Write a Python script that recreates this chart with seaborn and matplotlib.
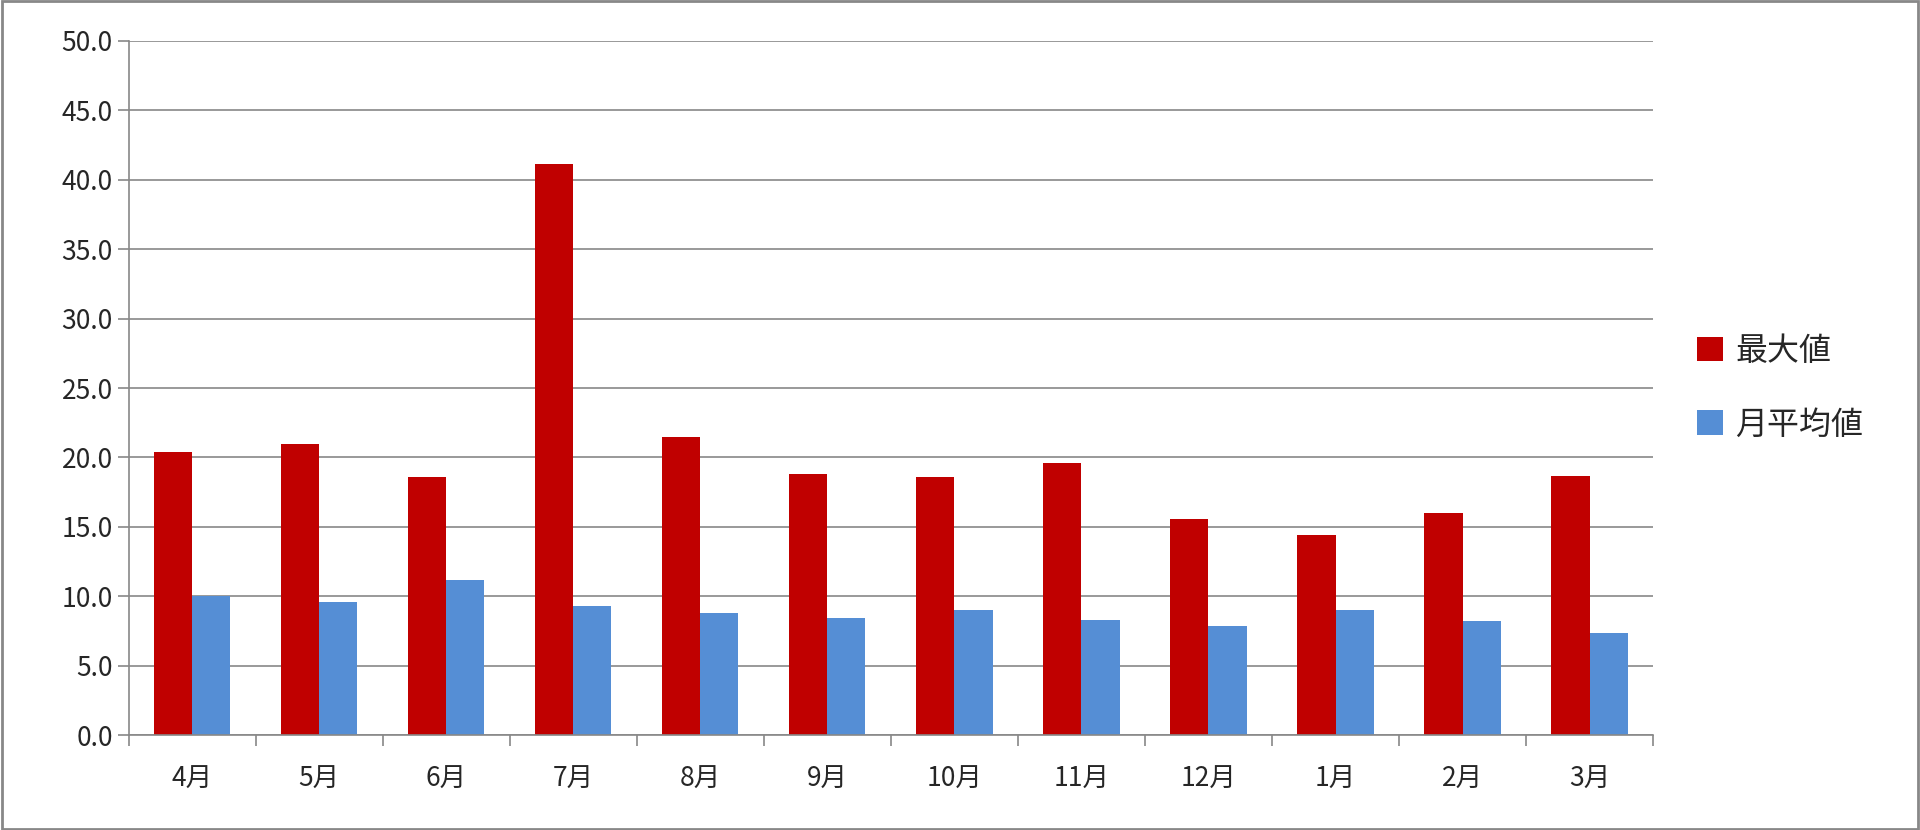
import seaborn as sns
import pandas as pd
import matplotlib.pyplot as plt
from matplotlib.patches import Rectangle

months = ['4月', '5月', '6月', '7月', '8月', '9月', '10月', '11月', '12月', '1月', '2月', '3月']
max_vals = [20.4, 20.95, 18.6, 41.1, 21.5, 18.8, 18.6, 19.6, 15.6, 14.4, 16.0, 18.7]
avg_vals = [10.0, 9.6, 11.2, 9.3, 8.8, 8.45, 9.0, 8.3, 7.9, 9.0, 8.2, 7.4]
series = ['最大値', '月平均値']

df = pd.DataFrame({'month': months * 2,
                   'value': max_vals + avg_vals,
                   'series': [series[0]] * 12 + [series[1]] * 12})

sns.set_style('white')
plt.rcParams['font.family'] = ['Noto Sans CJK JP', 'DejaVu Sans']

fig = plt.figure(figsize=(19.2, 8.3), dpi=100)
ax = fig.add_axes([0.067, 0.114, 0.794, 0.837])
sns.barplot(data=df, x='month', y='value', hue='series', order=months,
            palette=['#C00000', '#558ED5'], width=0.6, saturation=1,
            linewidth=0, ax=ax)

ax.set_ylim(0, 50)
ax.set_yticks(range(0, 51, 5))
ax.set_yticklabels([f'{v:.1f}' for v in range(0, 51, 5)], fontsize=19)
ax.set_xlim(-0.5, 11.5)
ax.tick_params(axis='x', labelsize=19, pad=22)
ax.set_xlabel('')
ax.set_ylabel('')
ax.yaxis.grid(True, color='#888888', linewidth=1.2)
ax.set_axisbelow(True)
for s in ['top', 'right']:
    ax.spines[s].set_visible(False)
for s in ['left', 'bottom']:
    ax.spines[s].set_color('#888888')
    ax.spines[s].set_linewidth(1.2)
# category boundary ticks on x axis, and left ticks
ax.set_xticks([i - 0.5 for i in range(13)], minor=True)
ax.tick_params(axis='x', which='minor', length=8, color='#888888', width=1.2, bottom=True)
ax.tick_params(axis='x', which='major', length=0)
ax.tick_params(axis='y', length=8, color='#888888', width=1.2, left=True)

leg = ax.legend(loc='center left', bbox_to_anchor=(1.01, 0.5), frameon=False,
                fontsize=23, handlelength=0.8, handleheight=0.8, labelspacing=1.3,
                handletextpad=0.4)

fig.patches.append(Rectangle((0.001, 0.001), 0.998, 0.998, transform=fig.transFigure,
                             fill=False, edgecolor='#888888', linewidth=2))
fig.savefig('out.png', dpi=100)
